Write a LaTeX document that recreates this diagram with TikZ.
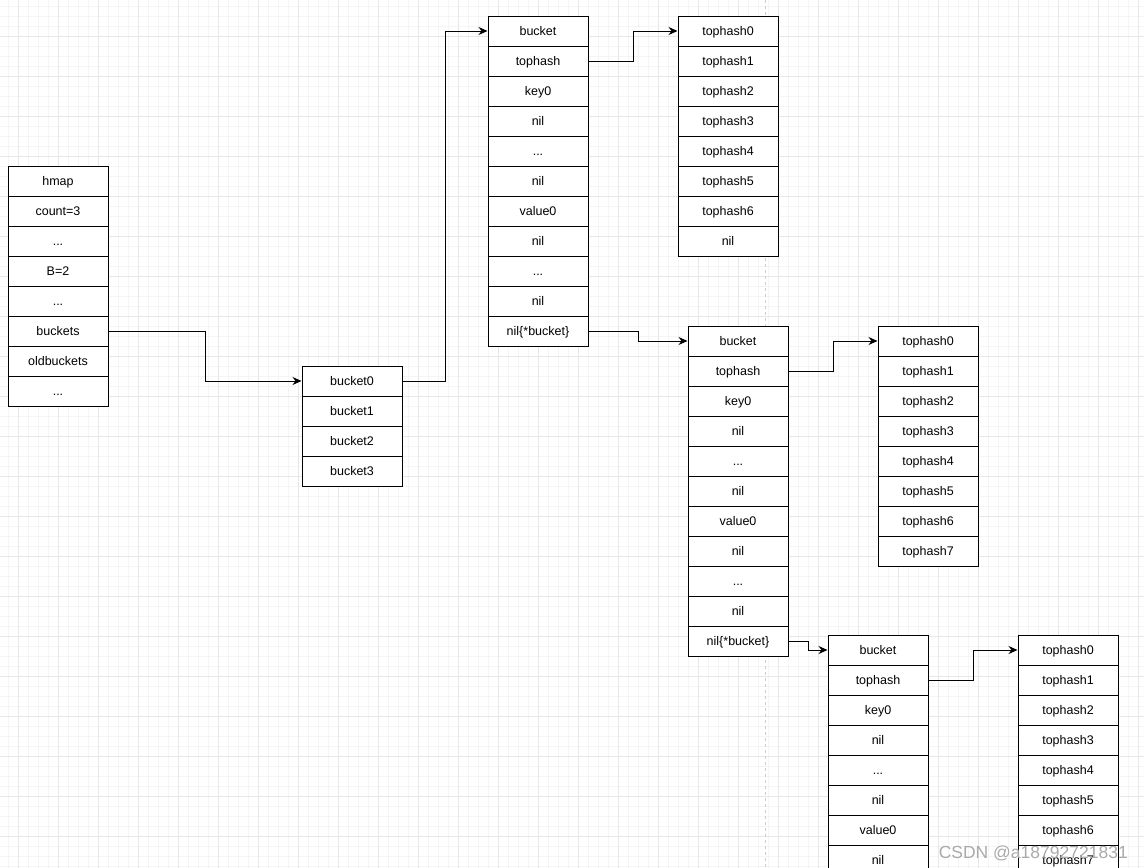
\documentclass[tikz,border=0pt]{standalone}
\usepackage{fontspec}
\setmainfont{Liberation Sans}
\usepackage{xcolor}
\usepackage{tikz}
\usetikzlibrary{arrows.meta}
\usetikzlibrary{backgrounds}
\usetikzlibrary{calc}
\pgfdeclarelayer{edgelayer}
\pgfdeclarelayer{nodelayer}
\pgfsetlayers{background,edgelayer,nodelayer,main}
\definecolor{minorline}{RGB}{245,245,245}
\definecolor{majorline}{RGB}{231,231,231}
\definecolor{pageline}{RGB}{205,205,205}
\definecolor{markgray}{RGB}{170,170,170}
\newcommand{\cellfont}{\fontsize{12.5}{14}\selectfont}
\tikzstyle{cell}=[draw=black,fill=white,line width=1pt,minimum width=100pt,minimum height=30pt,inner sep=0pt,text height=11pt,text depth=2pt,font=\cellfont]
\tikzstyle{ptr}=[line width=1pt,-{Stealth[length=9pt,width=8pt,inset=3pt]}]
\tikzstyle{gridminor}=[draw=minorline,line width=0.8pt]
\tikzstyle{gridmajor}=[draw=majorline,line width=1pt]

\begin{document}
\begin{tikzpicture}[x=1pt,y=-1pt]
	\useasboundingbox (0,0) rectangle (1144,868);
	\begin{pgfonlayer}{background}
		\fill[white] (0,0) rectangle (1144,868);
		\foreach \i in {0,...,114} \draw[gridminor] (8+10*\i,0) -- (8+10*\i,868);
		\foreach \i in {0,...,86} \draw[gridminor] (0,6+10*\i) -- (1144,6+10*\i);
		\foreach \i in {0,...,28} \draw[gridmajor] (18+40*\i,0) -- (18+40*\i,868);
		\foreach \i in {0,...,20} \draw[gridmajor] (0,36+40*\i) -- (1144,36+40*\i);
		\draw[pageline,line width=1pt,dash pattern=on 3pt off 3pt] (765,0) -- (765,868);
	\end{pgfonlayer}
	\begin{pgfonlayer}{nodelayer}
		% hmap
		\node [style=cell] (hm0) at (58, 181) {hmap};
		\node [style=cell] (hm1) at (58, 211) {count=3};
		\node [style=cell] (hm2) at (58, 241) {...};
		\node [style=cell] (hm3) at (58, 271) {B=2};
		\node [style=cell] (hm4) at (58, 301) {...};
		\node [style=cell] (hm5) at (58, 331) {buckets};
		\node [style=cell] (hm6) at (58, 361) {oldbuckets};
		\node [style=cell] (hm7) at (58, 391) {...};
		% buckets array
		\node [style=cell] (bk0) at (352, 381) {bucket0};
		\node [style=cell] (bk1) at (352, 411) {bucket1};
		\node [style=cell] (bk2) at (352, 441) {bucket2};
		\node [style=cell] (bk3) at (352, 471) {bucket3};
		% first bucket
		\node [style=cell] (ba0) at (538, 31) {bucket};
		\node [style=cell] (ba1) at (538, 61) {tophash};
		\node [style=cell] (ba2) at (538, 91) {key0};
		\node [style=cell] (ba3) at (538, 121) {nil};
		\node [style=cell] (ba4) at (538, 151) {...};
		\node [style=cell] (ba5) at (538, 181) {nil};
		\node [style=cell] (ba6) at (538, 211) {value0};
		\node [style=cell] (ba7) at (538, 241) {nil};
		\node [style=cell] (ba8) at (538, 271) {...};
		\node [style=cell] (ba9) at (538, 301) {nil};
		\node [style=cell] (ba10) at (538, 331) {nil\{*bucket\}};
		\node [style=cell] (ta0) at (728, 31) {tophash0};
		\node [style=cell] (ta1) at (728, 61) {tophash1};
		\node [style=cell] (ta2) at (728, 91) {tophash2};
		\node [style=cell] (ta3) at (728, 121) {tophash3};
		\node [style=cell] (ta4) at (728, 151) {tophash4};
		\node [style=cell] (ta5) at (728, 181) {tophash5};
		\node [style=cell] (ta6) at (728, 211) {tophash6};
		\node [style=cell] (ta7) at (728, 241) {nil};
		% overflow bucket
		\node [style=cell] (bb0) at (738, 341) {bucket};
		\node [style=cell] (bb1) at (738, 371) {tophash};
		\node [style=cell] (bb2) at (738, 401) {key0};
		\node [style=cell] (bb3) at (738, 431) {nil};
		\node [style=cell] (bb4) at (738, 461) {...};
		\node [style=cell] (bb5) at (738, 491) {nil};
		\node [style=cell] (bb6) at (738, 521) {value0};
		\node [style=cell] (bb7) at (738, 551) {nil};
		\node [style=cell] (bb8) at (738, 581) {...};
		\node [style=cell] (bb9) at (738, 611) {nil};
		\node [style=cell] (bb10) at (738, 641) {nil\{*bucket\}};
		\node [style=cell] (tb0) at (928, 341) {tophash0};
		\node [style=cell] (tb1) at (928, 371) {tophash1};
		\node [style=cell] (tb2) at (928, 401) {tophash2};
		\node [style=cell] (tb3) at (928, 431) {tophash3};
		\node [style=cell] (tb4) at (928, 461) {tophash4};
		\node [style=cell] (tb5) at (928, 491) {tophash5};
		\node [style=cell] (tb6) at (928, 521) {tophash6};
		\node [style=cell] (tb7) at (928, 551) {tophash7};
		% next overflow bucket
		\node [style=cell] (bc0) at (878, 650) {bucket};
		\node [style=cell] (bc1) at (878, 680) {tophash};
		\node [style=cell] (bc2) at (878, 710) {key0};
		\node [style=cell] (bc3) at (878, 740) {nil};
		\node [style=cell] (bc4) at (878, 770) {...};
		\node [style=cell] (bc5) at (878, 800) {nil};
		\node [style=cell] (bc6) at (878, 830) {value0};
		\node [style=cell] (bc7) at (878, 860) {nil};
		\node [style=cell] (tc0) at (1068, 650) {tophash0};
		\node [style=cell] (tc1) at (1068, 680) {tophash1};
		\node [style=cell] (tc2) at (1068, 710) {tophash2};
		\node [style=cell] (tc3) at (1068, 740) {tophash3};
		\node [style=cell] (tc4) at (1068, 770) {tophash4};
		\node [style=cell] (tc5) at (1068, 800) {tophash5};
		\node [style=cell] (tc6) at (1068, 830) {tophash6};
		\node [style=cell] (tc7) at (1068, 860) {tophash7};
	\end{pgfonlayer}
	\begin{pgfonlayer}{edgelayer}
		\draw [style=ptr] (hm5.east) -- ++(97,0) |- (bk0.west);
		\draw [style=ptr] (bk0.east) -- ++(43,0) |- (ba0.west);
		\draw [style=ptr] (ba1.east) -- ++(45,0) |- (ta0.west);
		\draw [style=ptr] (ba10.east) -- ++(50,0) |- (bb0.west);
		\draw [style=ptr] (bb1.east) -- ++(45,0) |- (tb0.west);
		\draw [style=ptr] (bb10.east) -- ++(20,0) |- (bc0.west);
		\draw [style=ptr] (bc1.east) -- ++(45,0) |- (tc0.west);
	\end{pgfonlayer}
	\node [text=markgray,font=\fontsize{17.5}{20}\selectfont,anchor=base east,inner sep=0pt] (mark) at (1128, 858) {CSDN @a18792721831};
\end{tikzpicture}
\end{document}
